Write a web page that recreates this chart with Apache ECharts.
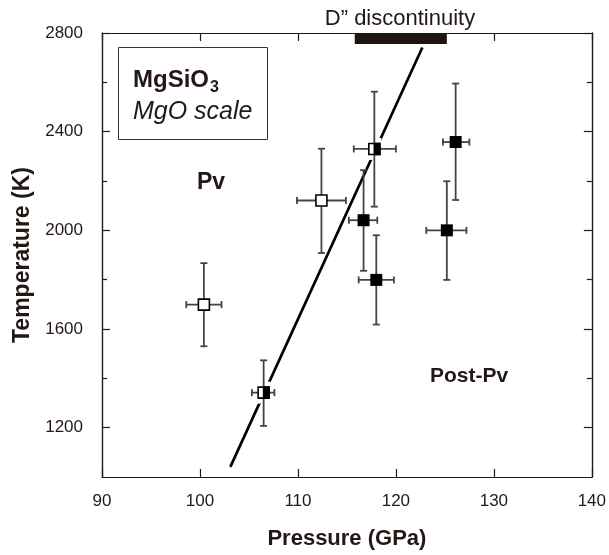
<!DOCTYPE html>
<html>
<head>
<meta charset="utf-8">
<script src="https://cdn.jsdelivr.net/npm/echarts@6/dist/echarts.min.js"></script>
<style>html,body{margin:0;padding:0;background:#fff;}#c{width:609px;height:555px;}</style>
</head>
<body>
<div id="c"></div>
<script>
// ---- data ----
const pressure    = [100.4, 112.4, 117.8, 106.5, 116.7, 118.0, 126.1, 125.2];
const temperature = [1699, 2121, 2330, 1342, 2041, 1799, 2358, 2000];
const pressureLow  = [98.6, 109.9, 115.7, 105.3, 115.2, 116.2, 124.8, 123.1];
const pressureHigh = [102.2, 114.9, 120.0, 107.6, 118.1, 119.8, 127.5, 127.2];
const tempLow  = [1530, 1908, 2096, 1207, 1836, 1618, 2123, 1799];
const tempHigh = [1867, 2331, 2562, 1473, 2244, 1980, 2595, 2199];
const phase = ['Pv', 'Pv', 'mixed', 'mixed', 'PPv', 'PPv', 'PPv', 'PPv'];
const boundaryP = [103.1, 122.7];
const boundaryT = [1041, 2741];
const dDoublePrimeP = [115.8, 125.2];
const dDoublePrimeT = [2755, 2800];
const yMajorTicks = [1200, 1600, 2000, 2400, 2800];
const yMinorTicks = [1400, 1800, 2200, 2600];

const ink = '#231815';
const font = 'Liberation Sans, Arial, Helvetica, sans-serif';

const pts = pressure.map((p, i) => [p, temperature[i], pressureLow[i], pressureHigh[i], tempLow[i], tempHigh[i], i]);

const chart = echarts.init(document.getElementById('c'), null, {renderer: 'canvas'});

function yAxisDef(pos, ticks, len, showLabel) {
  return {
    type: 'value', min: 1000, max: 2800, position: pos,
    axisLine: {show: true, onZero: false, lineStyle: {color: ink, width: 1.2}},
    axisTick: {show: true, inside: true, length: len, customValues: ticks, lineStyle: {color: ink, width: 1.2}},
    axisLabel: {show: showLabel, customValues: yMajorTicks, color: ink, fontSize: 17, fontFamily: font, margin: 19,
      formatter: function (v) { return String(v); }},
    splitLine: {show: false}
  };
}

const option = {
  animation: false,
  backgroundColor: '#fff',
  grid: {left: 102, right: 17, top: 33, bottom: 76},
  xAxis: [
    {
      type: 'value', min: 90, max: 140, interval: 10, position: 'bottom',
      name: 'Pressure (GPa)', nameLocation: 'middle', nameGap: 51,
      nameTextStyle: {color: ink, fontSize: 22, fontWeight: 'bold', fontFamily: font},
      axisLine: {show: true, onZero: false, lineStyle: {color: ink, width: 1.2}},
      axisTick: {show: true, inside: true, length: 8, lineStyle: {color: ink, width: 1.2}},
      axisLabel: {color: ink, fontSize: 17, fontFamily: font, margin: 16},
      splitLine: {show: false}
    },
    {
      type: 'value', min: 90, max: 140, interval: 10, position: 'top',
      axisLine: {show: true, onZero: false, lineStyle: {color: ink, width: 1.2}},
      axisTick: {show: true, inside: true, length: 8, lineStyle: {color: ink, width: 1.2}},
      axisLabel: {show: false},
      splitLine: {show: false}
    }
  ],
  yAxis: [
    Object.assign(yAxisDef('left', yMajorTicks, 8, true), {
      name: 'Temperature (K)', nameLocation: 'middle', nameGap: 61, nameRotate: 90,
      nameTextStyle: {color: ink, fontSize: 23, fontWeight: 'bold', fontFamily: font}
    }),
    yAxisDef('left', yMinorTicks, 5, false),
    yAxisDef('right', yMajorTicks, 8, false),
    yAxisDef('right', yMinorTicks, 5, false)
  ],
  series: [
    {
      type: 'line', xAxisIndex: 0, yAxisIndex: 0, z: 2,
      data: boundaryP.map((p, i) => [p, boundaryT[i]]),
      symbol: 'none', lineStyle: {color: '#000', width: 2.7}
    },
    {
      type: 'custom', xAxisIndex: 0, yAxisIndex: 0, z: 3,
      data: [[dDoublePrimeP[0], dDoublePrimeT[0], dDoublePrimeP[1], dDoublePrimeT[1]]],
      renderItem: function (params, api) {
        const a = api.coord([api.value(0), api.value(3)]);
        const b = api.coord([api.value(2), api.value(1)]);
        return {type: 'rect', shape: {x: a[0], y: a[1], width: b[0] - a[0], height: b[1] - a[1]}, style: {fill: '#1e1412'}};
      }
    },
    {
      // white halos where the boundary line passes behind a point
      type: 'custom', xAxisIndex: 0, yAxisIndex: 0, z: 4,
      data: pts,
      renderItem: function (params, api) {
        const c = api.coord([api.value(0), api.value(1)]);
        return {type: 'rect', shape: {x: c[0] - 7, y: c[1] - 11, width: 14, height: 22}, style: {fill: '#fff'}};
      }
    },
    {
      // error bars
      type: 'custom', xAxisIndex: 0, yAxisIndex: 0, z: 5,
      data: pts,
      renderItem: function (params, api) {
        const c = api.coord([api.value(0), api.value(1)]);
        const xl = api.coord([api.value(2), api.value(1)]);
        const xh = api.coord([api.value(3), api.value(1)]);
        const yl = api.coord([api.value(0), api.value(4)]);
        const yh = api.coord([api.value(0), api.value(5)]);
        const st = {stroke: '#444', lineWidth: 1.8};
        const cap = 3.5;
        return {type: 'group', children: [
          {type: 'line', shape: {x1: xl[0], y1: c[1], x2: xh[0], y2: c[1]}, style: st},
          {type: 'line', shape: {x1: c[0], y1: yl[1], x2: c[0], y2: yh[1]}, style: st},
          {type: 'line', shape: {x1: xl[0], y1: c[1] - cap, x2: xl[0], y2: c[1] + cap}, style: st},
          {type: 'line', shape: {x1: xh[0], y1: c[1] - cap, x2: xh[0], y2: c[1] + cap}, style: st},
          {type: 'line', shape: {x1: c[0] - cap, y1: yl[1], x2: c[0] + cap, y2: yl[1]}, style: st},
          {type: 'line', shape: {x1: c[0] - cap, y1: yh[1], x2: c[0] + cap, y2: yh[1]}, style: st}
        ]};
      }
    },
    {
      // markers
      type: 'custom', xAxisIndex: 0, yAxisIndex: 0, z: 6,
      data: pts,
      renderItem: function (params, api) {
        const c = api.coord([api.value(0), api.value(1)]);
        const kind = phase[api.value(6)];
        if (kind === 'PPv') {
          const s = 12;
          return {type: 'rect', shape: {x: c[0] - s / 2, y: c[1] - s / 2, width: s, height: s}, style: {fill: '#000'}};
        }
        const s = 11;
        const children = [
          {type: 'rect', shape: {x: c[0] - s / 2, y: c[1] - s / 2, width: s, height: s}, style: {fill: '#fff', stroke: '#000', lineWidth: 1.6}}
        ];
        if (kind === 'mixed') {
          children.push({type: 'rect', shape: {x: c[0], y: c[1] - s / 2, width: s / 2, height: s}, style: {fill: '#000', stroke: '#000', lineWidth: 1.6}});
        }
        return {type: 'group', children: children};
      }
    }
  ],
  graphic: [
    {type: 'text', x: 400, y: 19, style: {text: 'D\u201D discontinuity', fill: ink, fontSize: 22, fontFamily: font, align: 'center', verticalAlign: 'middle'}},
    {type: 'rect', shape: {x: 118.5, y: 47.5, width: 149, height: 92}, style: {fill: 'none', stroke: '#333', lineWidth: 1}},
    {type: 'text', x: 133, y: 80, style: {text: 'MgSiO', fill: ink, fontSize: 24, fontWeight: 'bold', fontFamily: font, verticalAlign: 'middle'}},
    {type: 'text', x: 210, y: 88, style: {text: '3', fill: ink, fontSize: 16, fontWeight: 'bold', fontFamily: font, verticalAlign: 'middle'}},
    {type: 'text', x: 133, y: 112, style: {text: 'MgO scale', fill: ink, fontSize: 25, fontStyle: 'italic', fontFamily: font, verticalAlign: 'middle'}},
    {type: 'text', x: 197, y: 183, style: {text: 'Pv', fill: ink, fontSize: 23, fontWeight: 'bold', fontFamily: font, verticalAlign: 'middle'}},
    {type: 'text', x: 430, y: 376, style: {text: 'Post-Pv', fill: ink, fontSize: 21, fontWeight: 'bold', fontFamily: font, verticalAlign: 'middle'}}
  ]
};
chart.setOption(option);
</script>
</body>
</html>
